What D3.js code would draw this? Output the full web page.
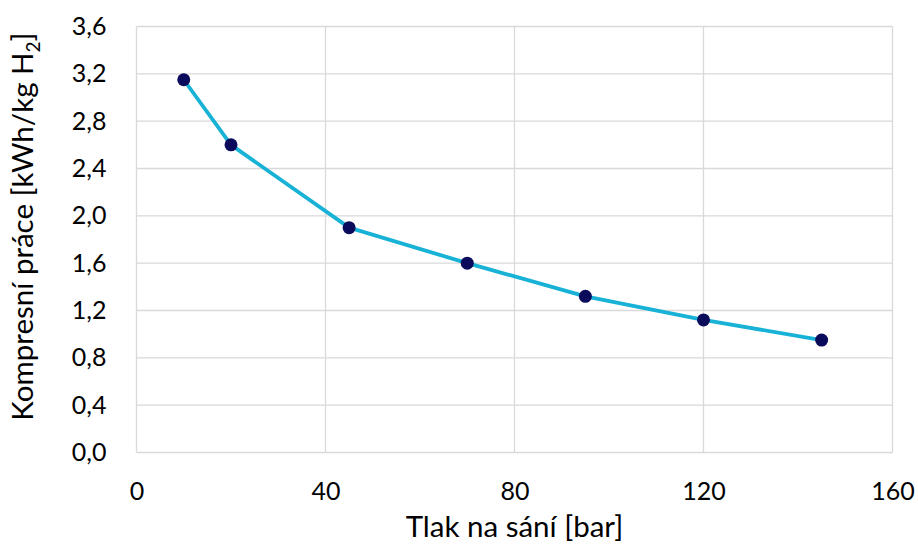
<!DOCTYPE html>
<html>
<head>
<meta charset="utf-8">
<script src="https://cdn.jsdelivr.net/npm/d3@7"></script>
<style>
  body { margin: 0; background: #fff; }
  svg text { font-family: Lato, "Open Sans", sans-serif; fill: #000; }
</style>
</head>
<body>
<div id="chart"></div>
<script>
// data
var pressure = [10, 20, 45, 70, 95, 120, 145];
var work = [3.15, 2.6, 1.9, 1.6, 1.32, 1.12, 0.95];
var xTicks = [0, 40, 80, 120, 160];
var yTicks = [0, 0.4, 0.8, 1.2, 1.6, 2.0, 2.4, 2.8, 3.2, 3.6];

var W = 918, H = 549;
var margin = { top: 26.5, left: 136.5, right: 25.5, bottom: 96.5 };
var iw = W - margin.left - margin.right,
    ih = H - margin.top - margin.bottom;

var svg = d3.select('#chart').append('svg')
    .attr('width', W)
    .attr('height', H);

var g = svg.append('g')
    .attr('transform', 'translate(' + margin.left + ',' + margin.top + ')');

var x = d3.scaleLinear().domain([0, 160]).range([0, iw]);
var y = d3.scaleLinear().domain([0, 3.6]).range([ih, 0]);

var fmt = function (v) { return d3.format('.1f')(v).replace('.', ','); };

// grid
g.selectAll('.hgrid').data(yTicks).enter().append('line')
    .attr('x1', 0).attr('x2', iw)
    .attr('y1', function (d) { return y(d); })
    .attr('y2', function (d) { return y(d); })
    .attr('stroke', '#d9d9d9').attr('stroke-width', 1.3);

g.selectAll('.vgrid').data(xTicks).enter().append('line')
    .attr('y1', 0).attr('y2', ih)
    .attr('x1', function (d) { return x(d); })
    .attr('x2', function (d) { return x(d); })
    .attr('stroke', '#d9d9d9').attr('stroke-width', 1.3);

// axes (labels only)
var xAxis = g.append('g')
    .attr('transform', 'translate(0,' + ih + ')')
    .call(d3.axisBottom(x).tickValues(xTicks).tickSize(0).tickPadding(30));
var yAxis = g.append('g')
    .call(d3.axisLeft(y).tickValues(yTicks).tickFormat(fmt).tickSize(0).tickPadding(30));
[xAxis, yAxis].forEach(function (a) {
    a.select('.domain').remove();
    a.selectAll('text').style('font-size', '25px').attr('fill', '#000');
});
xAxis.selectAll('text').attr('dy', '0.71em');

// line + markers
var pts = pressure.map(function (p, i) { return [p, work[i]]; });
var line = d3.line()
    .x(function (d) { return x(d[0]); })
    .y(function (d) { return y(d[1]); });

g.append('path')
    .datum(pts)
    .attr('d', line)
    .attr('fill', 'none')
    .attr('stroke', '#18b2d6')
    .attr('stroke-width', 3.8)
    .attr('stroke-linejoin', 'round');

g.selectAll('circle').data(pts).enter().append('circle')
    .attr('cx', function (d) { return x(d[0]); })
    .attr('cy', function (d) { return y(d[1]); })
    .attr('r', 6.5)
    .attr('fill', '#0b0b5c');

// axis titles
svg.append('text')
    .attr('x', margin.left + iw / 2)
    .attr('y', 537)
    .attr('text-anchor', 'middle')
    .style('font-size', '29.5px')
    .text('Tlak na sání [bar]');

var yt = svg.append('text')
    .attr('transform', 'translate(33,226.5) rotate(-90)')
    .attr('text-anchor', 'middle')
    .style('font-size', '29.5px');
yt.append('tspan').text('Kompresní práce [kWh/kg H');
yt.append('tspan').text('2').attr('dy', 7).style('font-size', '19px');
yt.append('tspan').text(']').attr('dy', -7);
</script>
</body>
</html>
